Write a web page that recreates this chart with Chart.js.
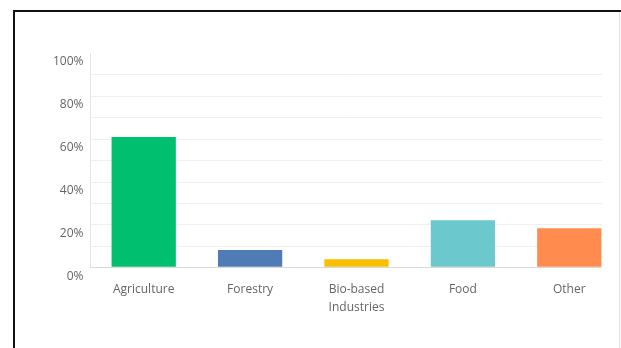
<!DOCTYPE html>
<html>
<head>
<meta charset="utf-8">
<script src="https://cdn.jsdelivr.net/npm/chart.js@4/dist/chart.umd.min.js"></script>
<style>
  html, body { margin: 0; padding: 0; background: #fff; }
  #wrap { position: relative; width: 621px; height: 348px; overflow: hidden; }
  #chart { position: absolute; left: 0; top: 0; }
  #frame {
    position: absolute; left: 13px; top: 10px; width: 620px; height: 350px;
    border-top: 2px solid #111; border-left: 2px solid #111;
    pointer-events: none;
  }
  #edge { position: absolute; left: 619px; top: 12px; width: 1px; height: 340px; background: #e2e2e2; }
</style>
</head>
<body>
<div id="wrap">
  <canvas id="chart" width="624" height="348"></canvas>
  <div id="frame"></div>
  <div id="edge"></div>
</div>
<script>
// Survey answers: share of respondents per sector (percent)
const categories = ['Agriculture', 'Forestry', ['Bio-based', 'Industries'], 'Food', 'Other'];
const shares = [60.8, 8.1, 3.7, 22.0, 18.2];
const barColors = ['#00BF6F', '#507CB6', '#F9BE00', '#6BC8CD', '#FF8B4F'];
const yTicks = [0, 20, 40, 60, 80, 100];

const GRID_RIGHT = 602;

// Horizontal guide lines every 10%, stopping short of the right edge
const guideLines = {
  id: 'guideLines',
  beforeDatasetsDraw(chart) {
    const { ctx, chartArea, scales } = chart;
    const y = scales.y;
    ctx.save();
    ctx.lineWidth = 1;
    for (let v = 10; v < 100; v += 10) {
      const py = Math.round(y.getPixelForValue(v)) + 0.5;
      ctx.strokeStyle = '#efefef';
      ctx.beginPath();
      ctx.moveTo(chartArea.left, py);
      ctx.lineTo(GRID_RIGHT, py);
      ctx.stroke();
    }
    const p0 = Math.round(y.getPixelForValue(0)) + 0.5;
    ctx.strokeStyle = '#d9d9d9';
    ctx.beginPath();
    ctx.moveTo(chartArea.left, p0);
    ctx.lineTo(GRID_RIGHT, p0);
    ctx.stroke();
    ctx.restore();
  }
};

const font = { family: '"Open Sans", sans-serif', size: 12 };

new Chart(document.getElementById('chart'), {
  type: 'bar',
  data: {
    labels: categories,
    datasets: [{
      data: shares,
      backgroundColor: barColors,
      borderWidth: 0,
      categoryPercentage: 1,
      barPercentage: 0.604
    }]
  },
  options: {
    responsive: false,
    animation: false,
    layout: { padding: { top: 53, right: 1.5, bottom: 0, left: 0 } },
    plugins: { legend: { display: false }, tooltip: { enabled: false } },
    scales: {
      x: {
        grid: { display: false, drawTicks: false },
        border: { display: false },
        ticks: {
          color: '#656565',
          font: { ...font, lineHeight: 1.45 },
          padding: 14,
          maxRotation: 0,
          autoSkip: false
        },
        afterFit(s) { s.height = 80.7; }
      },
      y: {
        min: 0,
        max: 100,
        grid: { drawOnChartArea: false, drawTicks: false },
        border: { display: true, color: '#e4e4e4' },
        afterBuildTicks(s) { s.ticks = yTicks.map(v => ({ value: v })); },
        ticks: {
          color: '#656565',
          font: font,
          padding: 7,
          labelOffset: 9,
          callback: v => v + '%'
        },
        afterFit(s) { s.width = 90.5; }
      }
    }
  },
  plugins: [guideLines]
});
</script>
</body>
</html>
